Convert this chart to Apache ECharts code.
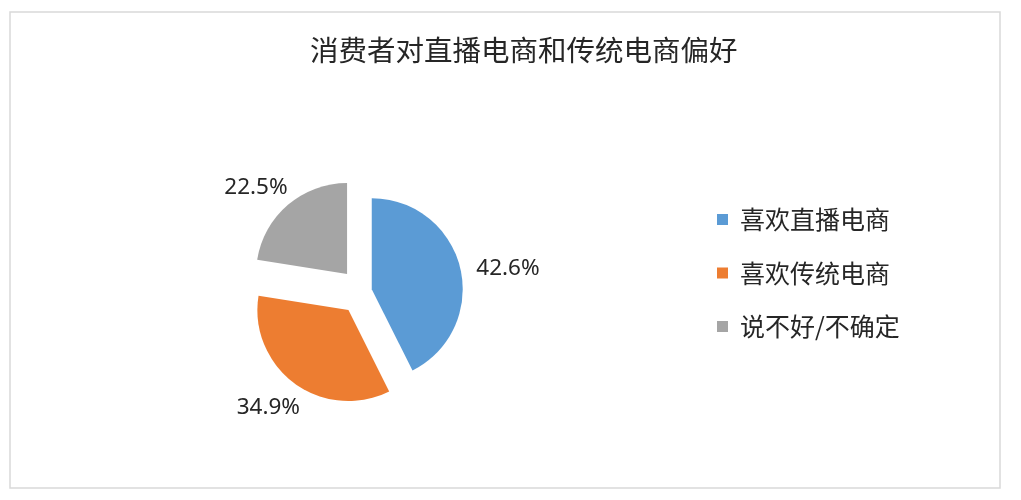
<!DOCTYPE html>
<html>
<head>
<meta charset="utf-8">
<script src="https://cdn.jsdelivr.net/npm/echarts@6/dist/echarts.min.js"></script>
<style>
html,body{margin:0;padding:0;background:#fff;}
#chart{width:1021px;height:500px;}
</style>
</head>
<body>
<div id="chart"></div>
<script>
// ---- data ----
var chartTitle = '消费者对直播电商和传统电商偏好';
var categories = ['喜欢直播电商', '喜欢传统电商', '说不好/不确定'];
var values = [42.6, 34.9, 22.5];
var colors = ['#5B9BD5', '#ED7D31', '#A5A5A5'];

// ---- label tweaks (style, not data) ----
var labelLineLen = [0, 30, 22];
var labelDist = [16, -23, -14];
var explodeGroup = [0, 1, 1]; // which series draws each slice

var chart = echarts.init(document.getElementById('chart'));

function buildData(group) {
  return categories.map(function (name, i) {
    var mine = explodeGroup[i] === group;
    return {
      name: name,
      value: values[i],
      selected: mine,
      itemStyle: { color: mine ? colors[i] : 'rgba(0,0,0,0)' },
      label: {
        show: mine,
        distanceToLabelLine: labelDist[i]
      },
      labelLine: { show: false, length: labelLineLen[i], length2: 0 }
    };
  });
}

function pieSeries(group, offset) {
  return {
    type: 'pie',
    center: [362, 291.5],
    radius: 91,
    startAngle: 90,
    clockwise: true,
    selectedMode: 'multiple',
    selectedOffset: offset,
    avoidLabelOverlap: false,
    silent: true,
    animation: false,
    label: {
      show: true,
      position: 'outside',
      formatter: '{c}%',
      fontSize: 22.5,
      fontFamily: 'Noto Sans',
      color: '#262626'
    },
    labelLine: { show: false },
    emphasis: { disabled: true },
    select: { itemStyle: {} },
    data: buildData(group)
  };
}

chart.setOption({
  backgroundColor: '#fff',
  animation: false,
  title: {
    text: chartTitle,
    left: 305,
    top: 31,
    textStyle: {
      fontFamily: 'Noto Sans CJK SC',
      fontSize: 28.5,
      fontWeight: 'normal',
      color: '#262626'
    }
  },
  legend: {
    orient: 'vertical',
    left: 717,
    top: 207,
    padding: 0,
    itemWidth: 11,
    itemHeight: 11,
    itemGap: 28.5,
    icon: 'rect',
    selectedMode: false,
    textStyle: {
      fontFamily: 'Noto Sans CJK SC',
      fontSize: 25,
      color: '#262626',
      padding: [0, 0, 0, 7]
    },
    data: categories.map(function (name, i) {
      return { name: name, itemStyle: { color: colors[i] } };
    })
  },
  graphic: [{
    type: 'rect',
    shape: { x: 10, y: 12, width: 990, height: 476 },
    style: { fill: 'none', stroke: '#d9d9d9', lineWidth: 1.5 },
    silent: true
  }],
  series: [pieSeries(0, 10), pieSeries(1, 23)]
});
</script>
</body>
</html>
